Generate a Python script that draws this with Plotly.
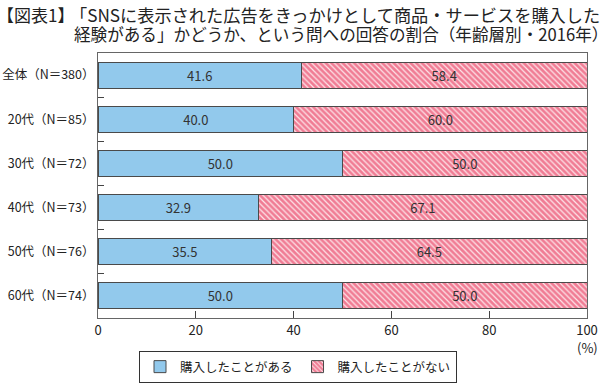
import plotly.graph_objects as go

categories = ["全体（N＝380）", "20代（N＝85）", "30代（N＝72）", "40代（N＝73）", "50代（N＝76）", "60代（N＝74）"]
purchased = [41.6, 40.0, 50.0, 32.9, 35.5, 50.0]
not_purchased = [58.4, 60.0, 50.0, 67.1, 64.5, 50.0]
series_names = ["購入したことがある", "購入したことがない"]
x_ticks = [0, 20, 40, 60, 80, 100]

W, H = 600, 383
L, R, T, B = 98, 13, 53, 65
PW, PH = W - L - R, H - T - B
FONT = "Noto Sans CJK JP"


def px(x):
    return (x - L) / PW


def py(y):
    return (H - B - y) / PH


fig = go.Figure()
fig.add_trace(go.Bar(
    y=categories, x=purchased, orientation="h", name=series_names[0],
    marker=dict(color="#92c9ec", line=dict(color="#4a4a4a", width=1)),
    text=[f"{v:.1f}" for v in purchased], textposition="inside",
    insidetextanchor="middle", textfont=dict(size=13, color="#333333", family=FONT),
    width=0.59,
))
fig.add_trace(go.Bar(
    y=categories, x=not_purchased, orientation="h", name=series_names[1],
    marker=dict(color="#f07c94", line=dict(color="#4a4a4a", width=1),
                pattern=dict(shape="\\", fgcolor="#fde6ea", bgcolor="#f07c94",
                             size=4, solidity=0.3, fillmode="replace")),
    text=[f"{v:.1f}" for v in not_purchased], textposition="inside",
    insidetextanchor="middle", textfont=dict(size=13, color="#333333", family=FONT),
    width=0.59,
))

fig.update_layout(
    width=W, height=H, barmode="stack",
    margin=dict(l=L, r=R, t=T, b=B, autoexpand=False),
    paper_bgcolor="white", plot_bgcolor="white",
    font=dict(family=FONT, size=13, color="#222222"),
    showlegend=True,
    legend=dict(orientation="h", x=px(298), xanchor="center", y=py(367), yanchor="middle",
                bordercolor="#333333", borderwidth=1, font=dict(size=12.5),
                itemwidth=30, traceorder="normal", tracegroupgap=0),
    xaxis=dict(range=[0, 100], tickvals=x_ticks, ticktext=[str(t) for t in x_ticks],
               ticks="inside", ticklen=7, tickcolor="#444444", automargin=False,
               showline=True, linecolor="#666666", linewidth=1, mirror=True,
               showgrid=False, zeroline=False, tickfont=dict(size=13)),
    yaxis=dict(categoryorder="array", categoryarray=categories, autorange="reversed",
               ticks="inside", tickson="boundaries", ticklen=6, tickcolor="#444444",
               showline=True, linecolor="#666666", linewidth=1, mirror=True, automargin=False,
               showgrid=False, tickfont=dict(size=12.5)),
    annotations=[
        dict(text="【図表1】", xref="paper", yref="paper", x=px(-5), y=py(14),
             xanchor="left", yanchor="middle", showarrow=False, font=dict(size=17)),
        dict(text="「SNSに表示された広告をきっかけとして商品・サービスを購入した", xref="paper", yref="paper",
             x=px(68), y=py(14), xanchor="left", yanchor="middle", showarrow=False,
             font=dict(size=17.2)),
        dict(text="経験がある」かどうか、という問への回答の割合（年齢層別・2016年）", xref="paper", yref="paper",
             x=px(72), y=py(34), xanchor="left", yanchor="middle", showarrow=False,
             font=dict(size=16.6)),
        dict(text="(%)", xref="x", yref="paper", x=100, y=py(347), xanchor="center",
             yanchor="middle", showarrow=False, font=dict(size=13)),
    ],
)

fig.write_html("out.html", config={"displayModeBar": False},
               post_script="document.body.style.margin='0';")
